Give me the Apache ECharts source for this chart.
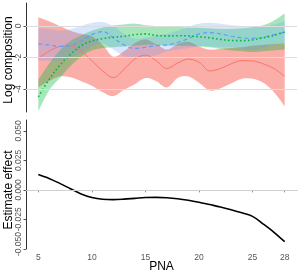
<!DOCTYPE html>
<html><head><meta charset="utf-8">
<script src="https://cdn.jsdelivr.net/npm/echarts@6/dist/echarts.min.js"></script>
<style>html,body{margin:0;padding:0;background:#fff}#c{width:300px;height:273px}</style>
</head><body><div id="c"></div><script>
const pna = [5,6,7,8,9,10,11,12,13,14,15,16,17,18,19,20,21,22,23,24,25,26,27,28];

const redFit  = [-2.05,-1.6,-1.3,-1.25,-1.6,-2.2,-2.85,-3.28,-2.75,-2.1,-1.85,-2.2,-2.7,-2.35,-2.1,-2.3,-2.85,-2.7,-2.4,-2.2,-2.22,-2.4,-2.7,-3.2];
const redHigh = [0.55,0.3,0.0,-0.3,-0.5,-0.65,-1.2,-1.95,-1.6,-1.1,-0.85,-1.15,-1.5,-1.15,-1.0,-1.3,-1.5,-1.45,-1.4,-1.35,-1.25,-1.2,-1.15,-1.1];
const redLow  = [-3.9,-3.5,-3.2,-3.25,-3.5,-3.8,-4.2,-4.45,-4.05,-3.7,-3.3,-3.5,-3.9,-3.3,-3.2,-3.6,-4.1,-3.95,-3.65,-3.35,-3.35,-3.6,-4.2,-5.1];

const blueFit  = [-1.14,-1.2,-1.3,-1.25,-0.95,-0.55,-0.35,-0.75,-1.2,-1.42,-1.35,-1.25,-1.2,-1.05,-0.8,-0.5,-0.42,-0.5,-0.65,-0.75,-0.78,-0.72,-0.55,-0.4];
const blueHigh = [-0.15,-0.2,-0.3,-0.2,0.0,0.2,0.25,0.0,-0.5,-0.8,-0.75,-0.6,-0.5,-0.3,-0.05,0.15,0.2,0.15,0.05,0.0,-0.05,-0.05,0.1,0.3];
const blueLow  = [-2.2,-2.2,-2.2,-2.0,-1.7,-1.3,-1.1,-1.5,-1.9,-2.05,-1.95,-1.85,-1.6,-1.5,-1.4,-1.3,-1.3,-1.35,-1.35,-1.45,-1.5,-1.4,-1.2,-1.1];

const greenFit  = [-4.5,-3.4,-2.5,-1.8,-1.25,-0.95,-0.8,-0.72,-0.65,-0.55,-0.5,-0.6,-0.63,-0.62,-0.63,-0.68,-0.75,-0.85,-0.92,-0.93,-0.88,-0.75,-0.6,-0.38];
const greenHigh = [-3.4,-2.4,-1.55,-0.95,-0.6,-0.3,-0.1,0.03,0.1,0.15,0.05,0.0,0.0,-0.05,-0.1,-0.12,-0.15,-0.18,-0.18,-0.15,-0.08,0.05,0.35,0.8];
const greenLow  = [-5.4,-4.1,-3.3,-2.55,-1.95,-1.55,-1.4,-1.35,-1.3,-1.25,-1.2,-1.2,-1.25,-1.25,-1.25,-1.3,-1.35,-1.45,-1.55,-1.6,-1.65,-1.6,-1.55,-1.5];

const effect = [0.013,0.0097,0.0055,0.001,-0.0035,-0.0065,-0.008,-0.0083,-0.0079,-0.0072,-0.0065,-0.0064,-0.0067,-0.0075,-0.0088,-0.0105,-0.0125,-0.0145,-0.0168,-0.0195,-0.0225,-0.029,-0.036,-0.044];

const xTicks = [5,10,15,20,25,28];
const topTicks = [0,-2,-4];
const bottomTicks = [-0.05,-0.025,0,0.025,0.05];
const X_MIN = 3.85, X_MAX = 29.15;

const RED='#F8766D', GREEN='#00BA38', BLUE='#619CFF';
const FONT='"Liberation Sans", Arial, sans-serif';

function pairs(arr){ return pna.map((x,i)=>[x,arr[i]]); }

// Catmull-Rom sampling in pixel space
function smoothPts(pts, steps){
  const out=[];
  const n=pts.length;
  for(let i=0;i<n-1;i++){
    const p0=pts[Math.max(i-1,0)], p1=pts[i], p2=pts[i+1], p3=pts[Math.min(i+2,n-1)];
    for(let s=0;s<steps;s++){
      const t=s/steps, t2=t*t, t3=t2*t;
      const f=(a,b,c,d)=>0.5*((2*b)+(-a+c)*t+(2*a-5*b+4*c-d)*t2+(-a+3*b-3*c+d)*t3);
      out.push([f(p0[0],p1[0],p2[0],p3[0]), f(p0[1],p1[1],p2[1],p3[1])]);
    }
  }
  out.push(pts[n-1]);
  return out;
}

function band(lo, hi, color, op){
  return {
    type:'custom', xAxisIndex:0, yAxisIndex:0, silent:true, z:1,
    data:[[pna[0], lo[0]]],
    renderItem:function(params, api){
      const up = pna.map((x,i)=>api.coord([x,hi[i]]));
      const dn = pna.map((x,i)=>api.coord([x,lo[i]]));
      const pts = smoothPts(up,8).concat(smoothPts(dn,8).reverse());
      return {type:'polygon', shape:{points:pts}, style:{fill:color, opacity:op}};
    }
  };
}

function fmtTop(v){ return String(v); }
function fmtBottom(v){
  const s = (Math.abs(v) < 1e-9 ? 0 : v).toFixed(3);
  return v < -0.049 ? '    ' + s : s;
}
// y tick labels placed through the axes' own scales
function tickLabels(ticks, fmt, xi, yi){
  return {
    type:'scatter', xAxisIndex:xi, yAxisIndex:yi, silent:true, clip:false, z:5,
    symbolSize:1, itemStyle:{color:'rgba(0,0,0,0)'},
    data:ticks.map(t=>[X_MIN, t]),
    label:{show:true, position:'left', distance:2, rotate:90, align:'center', verticalAlign:'bottom',
      color:'#555', opacity:1, fontSize:8.5, fontFamily:FONT, formatter:p=>fmt(p.value[1])},
    labelLayout:{hideOverlap:false}
  };
}

const chart = echarts.init(document.getElementById('c'), null, {renderer:'canvas'});
const labelStyle = {color:'#555', fontSize:8.5, fontFamily:FONT};
chart.setOption({
  animation:false,
  backgroundColor:'#fff',
  grid:[
    {left:26, right:3, top:3, height:109, containLabel:false, outerBoundsMode:'none'},
    {left:26, right:3, top:120, height:129, containLabel:false, outerBoundsMode:'none'}
  ],
  graphic:[
    {type:'text', x:9, y:60, rotation:Math.PI/2, silent:true,
     style:{text:'Log composition', align:'center', verticalAlign:'middle', fill:'#000', fontSize:12, fontFamily:FONT}},
    {type:'text', x:9, y:190, rotation:Math.PI/2, silent:true,
     style:{text:'Estimate effect', align:'center', verticalAlign:'middle', fill:'#000', fontSize:12, fontFamily:FONT}}
  ],
  xAxis:[
    {type:'value', gridIndex:0, min:X_MIN, max:X_MAX, show:false},
    {type:'value', gridIndex:1, min:X_MIN, max:X_MAX,
     axisLine:{show:true, lineStyle:{color:'#888', width:1}},
     axisTick:{show:true, length:2.5, customValues:xTicks, lineStyle:{color:'#888'}},
     axisLabel:Object.assign({customValues:xTicks, margin:4}, labelStyle),
     splitLine:{show:false},
     name:'PNA', nameLocation:'middle', nameGap:12, nameMoveOverlap:false,
     nameTextStyle:{color:'#000', fontSize:12, fontFamily:FONT}}
  ],
  yAxis:[
    {type:'value', gridIndex:0, min:-5.46, max:1.46,
     axisLine:{show:true, lineStyle:{color:'#333', width:1}},
     axisTick:{show:true, length:2.5, customValues:topTicks, lineStyle:{color:'#555'}},
     axisLabel:{show:false},
     splitLine:{show:false}},
    {type:'value', gridIndex:1, min:-0.0502, max:0.0593,
     axisLine:{show:true, lineStyle:{color:'#333', width:1}},
     axisTick:{show:true, length:2.5, customValues:bottomTicks, lineStyle:{color:'#555'}},
     axisLabel:{show:false},
     splitLine:{show:false}}
  ],
  series:[
    {type:'line', xAxisIndex:0, yAxisIndex:0, data:[], silent:true, z:0,
     markLine:{silent:true, symbol:'none', label:{show:false}, lineStyle:{color:'#dcdcdc', width:1, type:'solid'},
       data:topTicks.map(t=>({yAxis:t}))}},
    band(redLow, redHigh, RED, 0.6),
    band(greenLow, greenHigh, GREEN, 0.35),
    band(blueLow, blueHigh, BLUE, 0.25),
    {type:'line', xAxisIndex:0, yAxisIndex:0, data:pairs(redFit), symbol:'none', smooth:0.35,
     lineStyle:{color:RED, width:1}, z:3},
    {type:'line', xAxisIndex:0, yAxisIndex:0, data:pairs(blueFit), symbol:'none', smooth:0.35,
     lineStyle:{color:BLUE, width:1.2, type:[4,3]}, z:3},
    {type:'line', xAxisIndex:0, yAxisIndex:0, data:pairs(greenFit), symbol:'none', smooth:0.35,
     lineStyle:{color:GREEN, width:1.6, type:[1.6,2.4]}, z:3},
    {type:'line', xAxisIndex:1, yAxisIndex:1, data:pairs(effect), symbol:'none', smooth:0.35,
     lineStyle:{color:'#000', width:1.6}, z:3,
     markLine:{silent:true, symbol:'none', label:{show:false}, lineStyle:{color:'#d0d0d0', width:1, type:'solid'},
       data:[{yAxis:0}]}},
    tickLabels(topTicks, fmtTop, 0, 0),
    tickLabels(bottomTicks, fmtBottom, 1, 1)
  ]
});
</script></body></html>
